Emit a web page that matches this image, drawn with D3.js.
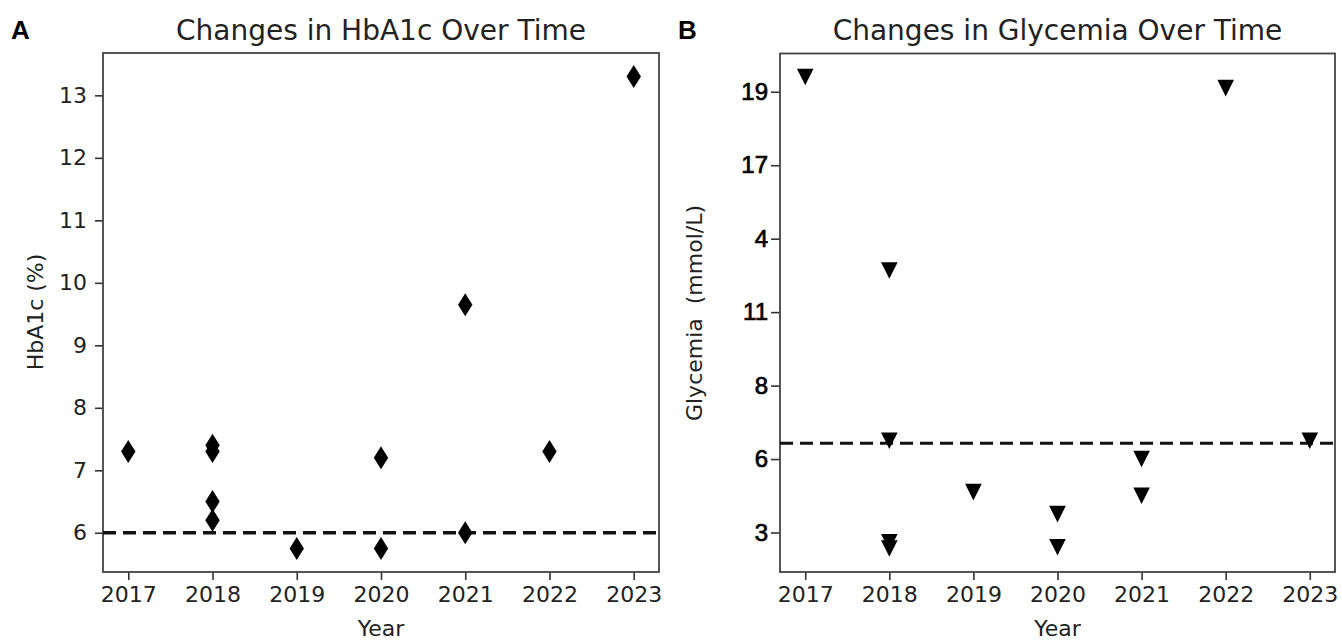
<!DOCTYPE html>
<html>
<head>
<meta charset="utf-8">
<script src="https://cdn.jsdelivr.net/npm/d3@7"></script>
<style>
  html, body { margin: 0; padding: 0; background: #fff; }
  svg { display: block; }
</style>
</head>
<body>
<svg id="chart" width="1342" height="642"></svg>
<script>
// ---------- data ----------
const yearTicks = [2017, 2018, 2019, 2020, 2021, 2022, 2023];

// Panel A: HbA1c (%)
const hba1cYears  = [2017, 2018, 2018, 2018, 2018, 2019, 2020, 2020, 2021, 2021, 2022, 2023];
const hba1cValues = [7.3, 7.4, 7.3, 6.5, 6.2, 5.75, 7.2, 5.75, 9.65, 6.0, 7.3, 13.3];
const hba1cThreshold = 6.0;
const hba1cTicks = [6, 7, 8, 9, 10, 11, 12, 13];

// Panel B: Glycemia (mmol/L)
const glyYears  = [2017, 2018, 2018, 2018, 2018, 2019, 2020, 2020, 2021, 2021, 2022, 2023];
const glyValues = [19.4, 12.7, 6.5, 2.6, 2.35, 4.65, 3.75, 2.4, 6.0, 4.5, 19.1, 6.5];
const glyThreshold = 6.43;
const glyTickValues = [3, 6, 8, 11, 14, 17, 19];
const glyTickLabels = ["3", "6", "8", "11", "4", "17", "19"];

const panelLetters = ["A", "B"];
const titles = ["Changes in HbA1c Over Time", "Changes in Glycemia Over Time"];
const yLabels = ["HbA1c (%)", "Glycemia\u00a0\u00a0(mmol/L)"];
const xLabel = "Year";

// ---------- helpers ----------
const svg = d3.select("#chart");
const FONT = "DejaVu Sans, sans-serif";
const TXT = "#222";

function pad(ext, f = 0.05) {
  const r = ext[1] - ext[0];
  return [ext[0] - r * f, ext[1] + r * f];
}

function drawPanel(opt) {
  const { left, right, top, bottom } = opt.box;
  const g = svg.append("g");

  const x = d3.scaleLinear().domain(pad([yearTicks[0], yearTicks[yearTicks.length - 1]])).range([left, right]);
  const y = d3.scaleLinear().domain(pad(d3.extent(opt.tv))).range([bottom, top]);

  // x axis
  const xa = g.append("g").attr("transform", `translate(0,${bottom})`)
    .call(d3.axisBottom(x).tickValues(yearTicks).tickFormat(d3.format("d")).tickSize(8).tickPadding(6));
  xa.select(".domain").remove();
  xa.selectAll(".tick line").attr("stroke", "#333").attr("stroke-width", 1.6);
  xa.selectAll(".tick text").attr("font-family", FONT).attr("font-size", 22).attr("fill", TXT);

  // y axis
  const ya = g.append("g").attr("transform", `translate(${left},0)`)
    .call(d3.axisLeft(y).tickValues(opt.yTicks).tickFormat(opt.yFormat).tickSize(opt.yTickSize).tickPadding(opt.yPad));
  ya.select(".domain").remove();
  ya.selectAll(".tick line").attr("stroke", "#333").attr("stroke-width", 1.6);
  ya.selectAll(".tick text").attr("font-family", opt.yFont).attr("font-size", opt.yFontSize)
    .attr("fill", opt.yFill).attr("stroke", opt.yStroke || "none").attr("stroke-width", opt.yStrokeW || 0);

  // frame
  g.append("rect").attr("x", left).attr("y", top).attr("width", right - left).attr("height", bottom - top)
    .attr("fill", "none").attr("stroke", "#444").attr("stroke-width", 1.8);

  // threshold
  g.append("line").attr("x1", left).attr("x2", right)
    .attr("y1", y(opt.thr)).attr("y2", y(opt.thr))
    .attr("stroke", "#111").attr("stroke-width", opt.dashW).attr("stroke-dasharray", "13,7");

  // markers
  const pts = opt.years.map((yr, i) => ({ x: yr, v: opt.tv[i] }));
  g.selectAll("path.mk").data(pts).join("path").attr("class", "mk")
    .attr("transform", d => `translate(${x(d.x)},${y(d.v)})`)
    .attr("d", opt.marker).attr("fill", "#000");

  // titles & labels
  const cx = (left + right) / 2;
  g.append("text").attr("x", cx).attr("y", 40).attr("text-anchor", "middle")
    .attr("font-family", FONT).attr("font-size", 28).attr("fill", TXT).text(opt.title);
  g.append("text").attr("x", opt.letterX).attr("y", 39)
    .attr("font-family", "Liberation Sans, Arial, sans-serif").attr("font-weight", "bold")
    .attr("font-size", 26).attr("fill", "#000").text(opt.letter);
  g.append("text").attr("x", cx).attr("y", 636).attr("text-anchor", "middle")
    .attr("font-family", FONT).attr("font-size", 22).attr("fill", TXT).text(xLabel);
  g.append("text").attr("transform", `translate(${opt.yLabelX},${opt.yLabelY}) rotate(-90)`)
    .attr("text-anchor", "middle").attr("font-family", FONT).attr("font-size", 22).attr("fill", TXT)
    .text(opt.yLabel);
}

const diamond = "M0,-11.5 L7.2,0 L0,11.5 L-7.2,0 Z";
const triDown = "M-8.3,-8.3 L8.3,-8.3 L0,8.3 Z";

// Panel A
drawPanel({
  box: { left: 103, right: 659, top: 53, bottom: 572 },
  years: hba1cYears, tv: hba1cValues, thr: hba1cThreshold,
  yTicks: hba1cTicks, yFormat: d3.format("d"), yTickSize: 8, yPad: 8,
  yFont: FONT, yFontSize: 22, yFill: TXT,
  marker: diamond, dashW: 3.5,
  title: titles[0], letter: panelLetters[0], letterX: 11,
  yLabel: yLabels[0], yLabelX: 43, yLabelY: 312
});

// Panel B: tick labels are evenly spaced, values mapped piecewise through them
const glyIndex = d3.scaleLinear().domain(glyTickValues).range(glyTickValues.map((d, i) => i));
drawPanel({
  box: { left: 780, right: 1335, top: 53.5, bottom: 572 },
  years: glyYears, tv: glyValues.map(glyIndex), thr: glyIndex(glyThreshold),
  yTicks: glyTickValues.map(glyIndex), yFormat: (d, i) => glyTickLabels[i], yTickSize: 9, yPad: 3,
  yFont: "Liberation Sans, Arial, sans-serif", yFontSize: 24, yFill: "#000", yStroke: "#000", yStrokeW: 0.7,
  marker: triDown, dashW: 3,
  title: titles[1], letter: panelLetters[1], letterX: 678,
  yLabel: yLabels[1], yLabelX: 702, yLabelY: 313
});
</script>
</body>
</html>
